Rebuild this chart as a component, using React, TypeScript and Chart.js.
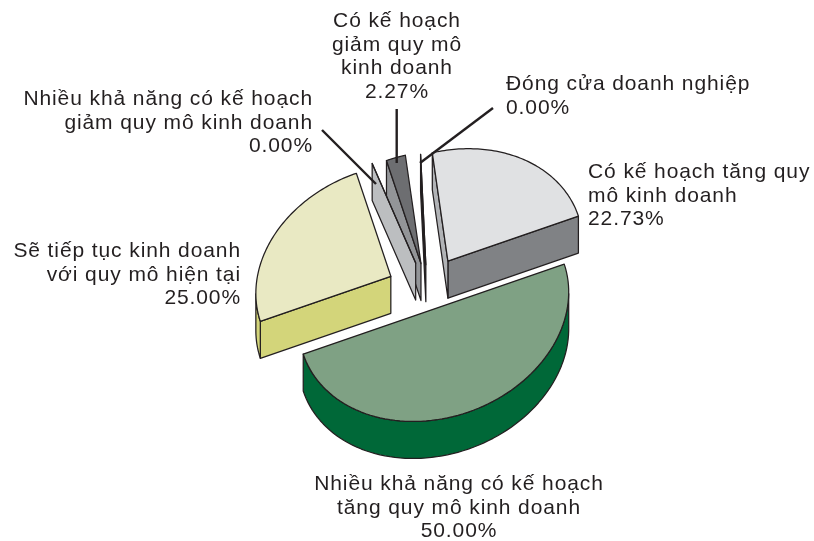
import React, { useEffect, useRef } from "react";
import { Chart, registerables } from "chart.js";

Chart.register(...registerables);

const sliceNames = [
  "Nhiều khả năng có kế hoạch tăng quy mô kinh doanh",
  "Sẽ tiếp tục kinh doanh với quy mô hiện tại",
  "Nhiều khả năng có kế hoạch giảm quy mô kinh doanh",
  "Có kế hoạch giảm quy mô kinh doanh",
  "Đóng cửa doanh nghiệp",
  "Có kế hoạch tăng quy mô kinh doanh",
];
const sliceValues = [50.0, 25.0, 0.0, 2.27, 0.0, 22.73];
const sliceOffsets = [39, 62, 52, 48, 44, 55];
const wallNudgeDeg = [0, 0, -4, 0, 4.4, 0];
const paintOrder = [1, 3, 2, 4, 5, 0];

const topColors = ["#7fa184", "#e9e9c3", "#bcbec0", "#6d6e71", "#231f20", "#e0e1e3"];
const frontColors = ["#006838", "#d3d57a", "#bcbec0", "#939598", "#231f20", "#808285"];
const sideColors = ["#006838", "#d3d57a", "#bcbec0", "#939598", "#231f20", "#b1b3b6"];

const labelLines = [
  ["Nhiều khả năng có kế hoạch", "tăng quy mô kinh doanh", "50.00%"],
  ["Sẽ tiếp tục kinh doanh", "với quy mô hiện tại", "25.00%"],
  ["Nhiều khả năng có kế hoạch", "giảm quy mô kinh doanh", "0.00%"],
  ["Có kế hoạch", "giảm quy mô", "kinh doanh", "2.27%"],
  ["Đóng cửa doanh nghiệp", "0.00%"],
  ["Có kế hoạch tăng quy", "mô kinh doanh", "22.73%"],
];
const labelAnchors: [number, number, CanvasTextAlign][] = [
  [459, 490, "center"],
  [241, 257, "right"],
  [313, 105, "right"],
  [397, 27, "center"],
  [506, 90, "left"],
  [588, 178, "left"],
];
const leaderLines = [
  [322, 130, 376, 184],
  [396.7, 109, 396.7, 163],
  [493, 108, 420, 163],
];

const INK = "#231f20";
const CENTER = [427, 289];
const AXIS_U = [130.5, -45];
const AXIS_V = [34.5, 103];
const DEPTH = 37;
const STEPS = 80;

const pie3d = {
  id: "pie3d",
  beforeDatasetDraw(chart: any) {
    const ctx: CanvasRenderingContext2D = chart.ctx;
    const arcs = chart.getDatasetMeta(0).data;
    ctx.save();
    ctx.lineWidth = 1.25;
    ctx.lineJoin = "round";
    ctx.strokeStyle = INK;

    const poly = (pts: number[][], fill: string | null) => {
      ctx.beginPath();
      pts.forEach((p, i) => (i ? ctx.lineTo(p[0], p[1]) : ctx.moveTo(p[0], p[1])));
      ctx.closePath();
      if (fill) {
        ctx.fillStyle = fill;
        ctx.fill();
      }
      ctx.stroke();
    };
    const down = (p: number[]) => [p[0], p[1] + DEPTH];

    for (const i of paintOrder) {
      const arc = arcs[i];
      const { startAngle, endAngle, outerRadius } = arc.getProps(["startAngle", "endAngle", "outerRadius"], true);
      const nudge = (wallNudgeDeg[i] * Math.PI) / 180;
      const a0 = startAngle + nudge;
      const a1 = endAngle + nudge;
      const mid = (a0 + a1) / 2;
      const off = arc.options.offset / outerRadius;
      const map = (rho: number, phi: number) => {
        const x = off * Math.cos(mid) + rho * Math.cos(phi);
        const y = off * Math.sin(mid) + rho * Math.sin(phi);
        return [CENTER[0] + AXIS_U[0] * x + AXIS_V[0] * y, CENTER[1] + AXIS_U[1] * x + AXIS_V[1] * y];
      };
      const apex = map(0, 0);
      const rim: number[][] = [];
      for (let s = 0; s <= STEPS; s++) rim.push(map(1, a0 + ((a1 - a0) * s) / STEPS));
      const first = rim[0];
      const last = rim[rim.length - 1];

      // radial walls, when they face the viewer
      if (apex[0] - last[0] < 0) {
        poly([last, apex, down(apex), down(last)], frontColors[i]);
      }
      if (first[0] - apex[0] < 0) {
        poly([apex, first, down(first), down(apex)], sideColors[i]);
      }
      // outer wall, on the runs that face the viewer
      let run: number[][] = [];
      const flush = () => {
        if (run.length > 1) poly([...run, ...run.slice().reverse().map(down)], frontColors[i]);
        run = [];
      };
      for (let s = 0; s < rim.length - 1; s++) {
        if (rim[s + 1][0] - rim[s][0] < 0) {
          if (!run.length) run.push(rim[s]);
          run.push(rim[s + 1]);
        } else flush();
      }
      flush();
      // top face
      poly([apex, ...rim], topColors[i]);
    }

    ctx.restore();
    return false;
  },
  afterDraw(chart: any) {
    const ctx: CanvasRenderingContext2D = chart.ctx;
    ctx.save();
    ctx.strokeStyle = INK;
    ctx.lineWidth = 2.4;
    for (const l of leaderLines) {
      ctx.beginPath();
      ctx.moveTo(l[0], l[1]);
      ctx.lineTo(l[2], l[3]);
      ctx.stroke();
    }
    ctx.fillStyle = INK;
    ctx.font = '21px "Liberation Sans"';
    (ctx as any).letterSpacing = "0.9px";
    ctx.textBaseline = "alphabetic";
    labelLines.forEach((lines, i) => {
      const [x, y, align] = labelAnchors[i];
      ctx.textAlign = align;
      lines.forEach((t, k) => ctx.fillText(t, x, y + k * 23.5));
    });
    ctx.restore();
  },
};

export default function App() {
  const ref = useRef<HTMLCanvasElement>(null);
  useEffect(() => {
    const chart = new Chart(ref.current!, {
      type: "pie",
      data: {
        labels: sliceNames,
        datasets: [
          {
            data: sliceValues,
            backgroundColor: topColors,
            offset: sliceOffsets,
            radius: 200,
          } as any,
        ],
      },
      options: {
        animation: false,
        responsive: false,
        rotation: 90,
        plugins: { legend: { display: false }, tooltip: { enabled: false } },
      },
      plugins: [pie3d as any],
    });
    return () => chart.destroy();
  }, []);
  return (
    <div style={{ position: "fixed", left: 0, top: 0, width: 814, height: 541, background: "#fff" }}>
      <canvas ref={ref} width={814} height={541} style={{ display: "block" }} />
    </div>
  );
}
